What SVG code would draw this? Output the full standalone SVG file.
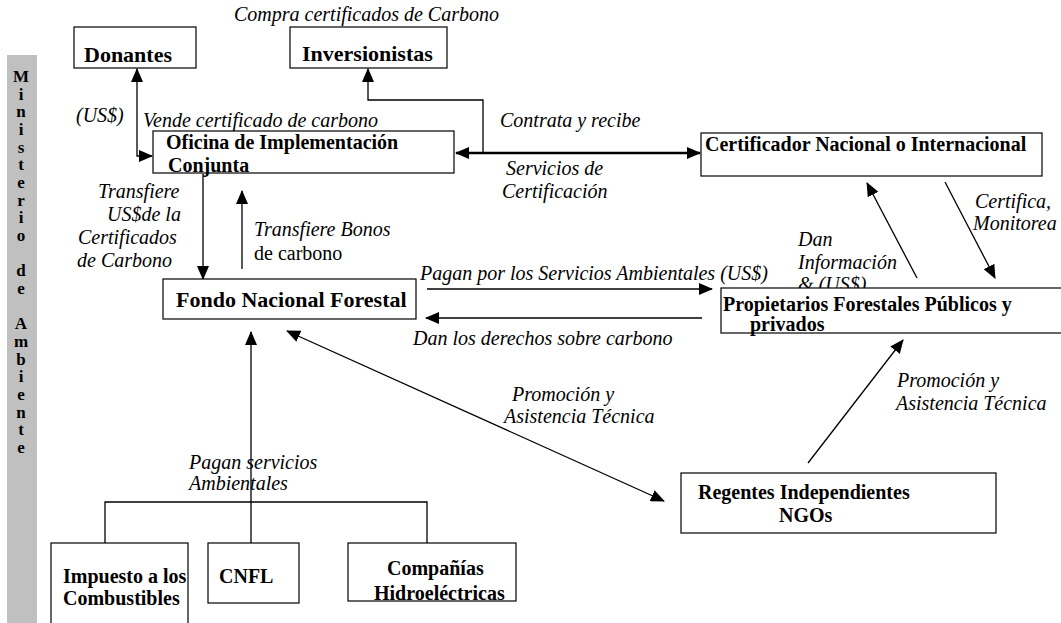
<svg xmlns="http://www.w3.org/2000/svg" width="1061" height="623" viewBox="0 0 1061 623">
<defs>
<style>
.box{fill:#fff;stroke:#000;stroke-width:1.2}
.b{font-family:"Liberation Serif",serif;font-weight:bold;font-size:20px;fill:#000}
.bb{font-size:22px}
.i{font-family:"Liberation Serif",serif;font-style:italic;font-size:20px;fill:#000}
.r{font-family:"Liberation Serif",serif;font-size:20px;fill:#000}
.side{font-family:"Liberation Serif",serif;font-weight:bold;font-size:17px;fill:#000;text-anchor:middle}
.c{fill:none;stroke:#000;stroke-width:1.3}
.thick{stroke-width:2.6}
</style>
<marker id="ah" markerUnits="userSpaceOnUse" markerWidth="14" markerHeight="12" refX="13" refY="6" orient="auto-start-reverse" viewBox="0 0 14 12"><path d="M0,0 L14,6 L0,12 Z" fill="#000"/></marker>
</defs>
<rect width="1061" height="623" fill="#fff"/>
<g id="ministerio">
<rect x="7" y="55" width="30" height="568" fill="#c0c0c0"/>
<text class="side" x="21" y="82">M</text>
<text class="side" x="21" y="100">i</text>
<text class="side" x="21" y="117">n</text>
<text class="side" x="21" y="135">i</text>
<text class="side" x="21" y="153">s</text>
<text class="side" x="21" y="170">t</text>
<text class="side" x="21" y="188">e</text>
<text class="side" x="21" y="206">r</text>
<text class="side" x="21" y="223">i</text>
<text class="side" x="21" y="241">o</text>
<text class="side" x="21" y="276">d</text>
<text class="side" x="21" y="294">e</text>
<text class="side" x="21" y="329">A</text>
<text class="side" x="21" y="347">m</text>
<text class="side" x="21" y="365">b</text>
<text class="side" x="21" y="382">i</text>
<text class="side" x="21" y="400">e</text>
<text class="side" x="21" y="418">n</text>
<text class="side" x="21" y="435">t</text>
<text class="side" x="21" y="453">e</text>
</g>
<g id="connectors">
<path class="c" d="M137,69 V156 H152" marker-start="url(#ah)" marker-end="url(#ah)"/>
<path class="c" d="M483,153 V100 H368 V69" marker-end="url(#ah)"/>
<path class="c thick" d="M456,153 H700" marker-start="url(#ah)" marker-end="url(#ah)"/>
<path class="c" d="M203,174 V279" marker-end="url(#ah)"/>
<path class="c" d="M242,269 V191" marker-end="url(#ah)"/>
<path class="c" d="M427,289 H712" marker-end="url(#ah)"/>
<path class="c" d="M702,318 H426" marker-end="url(#ah)"/>
<path class="c" d="M917,278 L867,183" marker-end="url(#ah)"/>
<path class="c" d="M945,182 L995,278" marker-end="url(#ah)"/>
<path class="c" d="M808,463 L903,340" marker-end="url(#ah)"/>
<path class="c" d="M287,331 L664,501" marker-start="url(#ah)" marker-end="url(#ah)"/>
<path class="c" d="M105,543 V502 H427 V543"/>
<path class="c" d="M251,543 V332" marker-end="url(#ah)"/>
</g>
<g id="labels">
<text class="i" x="234" y="21">Compra certificados de Carbono</text>
<text class="i" x="76" y="122">(US$)</text>
<text class="i" x="143" y="127">Vende certificado de carbono</text>
<text class="i" x="500" y="127">Contrata y recibe</text>
<text class="i" x="506" y="175">Servicios de</text>
<text class="i" x="502" y="198">Certificación</text>
<text class="i" x="98" y="198">Transfiere</text>
<text class="i" x="107" y="221">US$de la</text>
<text class="i" x="78" y="244">Certificados</text>
<text class="i" x="77" y="267">de Carbono</text>
<text class="i" x="254" y="236">Transfiere Bonos</text>
<text class="r" x="254" y="260">de carbono</text>
<text class="i" x="420" y="280">Pagan por los Servicios Ambientales (US$)</text>
<text class="i" x="413" y="345">Dan los derechos sobre carbono</text>
<text class="i" x="798" y="246">Dan</text>
<text class="i" x="798" y="269">Información</text>
<text class="i" x="798" y="291">&amp; (US$)</text>
<text class="i" x="975" y="208">Certifica,</text>
<text class="i" x="973" y="230">Monitorea</text>
<text class="i" x="897" y="387">Promoción y</text>
<text class="i" x="896" y="410">Asistencia Técnica</text>
<text class="i" x="512" y="401">Promoción y</text>
<text class="i" x="504" y="423">Asistencia Técnica</text>
<text class="i" x="189" y="469">Pagan servicios</text>
<text class="i" x="189" y="490">Ambientales</text>
</g>
<g id="donantes">
<rect class="box" x="74" y="27" width="122" height="41"/>
<text class="b bb" x="84" y="62">Donantes</text>
</g>
<g id="inversionistas">
<rect class="box" x="290" y="27" width="157" height="41"/>
<text class="b bb" x="302" y="61">Inversionistas</text>
</g>
<g id="oficina">
<rect class="box" x="153" y="131" width="301" height="42"/>
<text class="b" x="166" y="149">Oficina de Implementación</text>
<text class="b" x="168" y="172">Conjunta</text>
</g>
<g id="certificador">
<rect class="box" x="701" y="133" width="341" height="43"/>
<text class="b" x="705" y="151">Certificador Nacional o Internacional</text>
</g>
<g id="fondo">
<rect class="box" x="163" y="279" width="253" height="40"/>
<text class="b bb" x="176" y="307">Fondo Nacional Forestal</text>
</g>
<g id="propietarios">
<rect class="box" x="721" y="288" width="345" height="45"/>
<text class="b" x="723" y="311">Propietarios Forestales Públicos y</text>
<text class="b" x="750" y="331">privados</text>
</g>
<g id="regentes">
<rect class="box" x="681" y="473" width="315" height="60"/>
<text class="b" x="698" y="499">Regentes Independientes</text>
<text class="b" x="779" y="522">NGOs</text>
</g>
<g id="impuesto">
<rect class="box" x="51" y="543" width="137" height="85"/>
<text class="b" x="63" y="583">Impuesto a los</text>
<text class="b" x="63" y="605">Combustibles</text>
</g>
<g id="cnfl">
<rect class="box" x="208" y="543" width="91" height="60"/>
<text class="b" x="219" y="583">CNFL</text>
</g>
<g id="companias">
<rect class="box" x="348" y="543" width="168" height="58"/>
<text class="b" x="387" y="575">Compañías</text>
<text class="b" x="374" y="600">Hidroeléctricas</text>
</g>
</svg>
